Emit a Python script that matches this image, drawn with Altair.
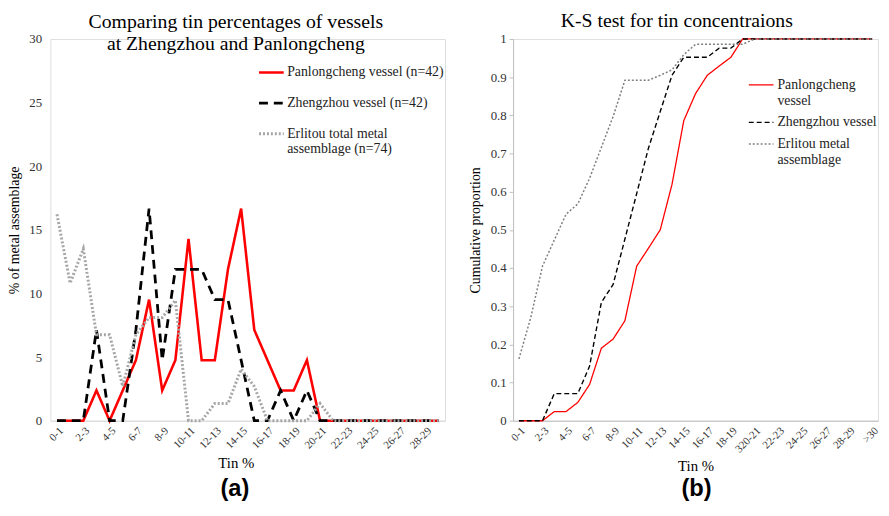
import altair as alt
import pandas as pd

# ---------------- data ----------------
cats_a = ["0-1", "1-2", "2-3", "3-4", "4-5", "5-6", "6-7", "7-8", "8-9", "9-10",
          "10-11", "11-12", "12-13", "13-14", "14-15", "15-16", "16-17", "17-18",
          "18-19", "19-20", "20-21", "21-22", "22-23", "23-24", "24-25", "25-26",
          "26-27", "27-28", "28-29", "29-30"]
labels_a = ["0-1", "2-3", "4-5", "6-7", "8-9", "10-11", "12-13", "14-15", "16-17",
            "18-19", "20-21", "22-23", "24-25", "26-27", "28-29"]

names_a = ["Panlongcheng vessel (n=42)", "Zhengzhou vessel (n=42)",
           "Erlitou total metal assemblage (n=74)"]
pan_a = [0, 0, 0, 2.38, 0, 2.38, 4.76, 9.52, 2.38, 4.76, 14.29, 4.76, 4.76, 11.9, 16.67,
         7.14, 4.76, 2.38, 2.38, 4.76, 0, 0, 0, 0, 0, 0, 0, 0, 0, 0]
zz_a = [0, 0, 0, 7.14, 0, 0, 7.14, 16.67, 4.76, 11.9, 11.9, 11.9, 9.52, 9.52, 4.76,
        0, 0, 2.38, 0, 2.38, 0, 0, 0, 0, 0, 0, 0, 0, 0, 0]
er_a = [16.22, 10.81, 13.51, 6.76, 6.76, 2.7, 6.76, 8.11, 8.11, 9.46, 0, 0, 1.35, 1.35,
        4.05, 2.7, 0, 0, 0, 0, 1.35, 0, 0, 0, 0, 0, 0, 0, 0, 0]

cats_b = ["0-1", "1-2", "2-3", "3-4", "4-5", "5-6", "6-7", "7-8", "8-9", "9-10",
          "10-11", "11-12", "12-13", "13-14", "14-15", "15-16", "16-17", "17-18",
          "18-19", "19-20", "320-21", "21-22", "22-23", "23-24", "24-25", "25-26",
          "26-27", "27-28", "28-29", "29-30", ">30"]
labels_b = ["0-1", "2-3", "4-5", "6-7", "8-9", "10-11", "12-13", "14-15", "16-17",
            "18-19", "320-21", "22-23", "24-25", "26-27", "28-29", ">30"]

names_b = ["Panlongcheng vessel", "Zhengzhou vessel", "Erlitou metal assemblage"]
pan_b = [0, 0, 0, 0.024, 0.024, 0.048, 0.095, 0.19, 0.214, 0.262, 0.405, 0.452, 0.5,
         0.619, 0.786, 0.857, 0.905, 0.929, 0.952, 1, 1, 1, 1, 1, 1, 1, 1, 1, 1, 1, 1]
zz_b = [0, 0, 0, 0.071, 0.071, 0.071, 0.143, 0.31, 0.357, 0.476, 0.595, 0.714, 0.81,
        0.905, 0.952, 0.952, 0.952, 0.976, 0.976, 1, 1, 1, 1, 1, 1, 1, 1, 1, 1, 1, 1]
er_b = [0.162, 0.27, 0.405, 0.473, 0.541, 0.568, 0.635, 0.716, 0.797, 0.892, 0.892,
        0.892, 0.905, 0.919, 0.959, 0.986, 0.986, 0.986, 0.986, 0.986, 1, 1, 1, 1, 1,
        1, 1, 1, 1, 1, 1]


def long_df(cats, names, series):
    rows = []
    for k, (name, vals) in enumerate(zip(names, series)):
        for c, v in zip(cats, vals):
            rows.append({"cat": c, "series": name, "order": k, "value": v})
    return pd.DataFrame(rows)


df_a = long_df(cats_a, names_a, [pan_a, zz_a, er_a])
df_b = long_df(cats_b, names_b, [pan_b, zz_b, er_b])

SERIF = "Liberation Serif"
SANS = "Liberation Sans"

# ---------------- panel (a) ----------------
leg_a = alt.Legend(
    title=None, orient="none", legendX=210, legendY=20, symbolType="stroke",
    symbolSize=625, labelFont=SERIF, labelFontSize=14, labelColor="#222",
    rowPadding=10, labelOffset=2, labelLimit=300,
    labelExpr="datum.label == 'Erlitou total metal assemblage (n=74)' ? "
              "['Erlitou total metal', 'assemblage (n=74)'] : datum.label",
)
panel_a = alt.Chart(df_a).mark_line().encode(
    x=alt.X("cat:N", sort=cats_a, scale=alt.Scale(domain=cats_a),
            axis=alt.Axis(values=labels_a, labelAngle=315, title="Tin %",
                          titleFont=SERIF, titleFontSize=15, titleFontWeight="normal",
                          titlePadding=5, titleX=188,
                          labelFont=SERIF, labelFontSize=11, labelColor="#333",
                          labelPadding=4, ticks=False, domainColor="#d9d9d9",
                          grid=False)),
    y=alt.Y("value:Q", scale=alt.Scale(domain=[0, 30], nice=False),
            axis=alt.Axis(values=[0, 5, 10, 15, 20, 25, 30], title="% of metal assemblage",
                          titleFont=SERIF, titleFontSize=14, titleFontWeight="normal",
                          titlePadding=7, labelFont=SERIF, labelFontSize=13,
                          labelColor="#333", labelPadding=9, ticks=False, domain=False,
                          grid=False)),
    color=alt.Color("series:N", scale=alt.Scale(domain=names_a,
                    range=["#ff0000", "#000000", "#a6a6a6"]), legend=leg_a),
    strokeDash=alt.StrokeDash("series:N", scale=alt.Scale(domain=names_a,
                              range=[[1, 0], [9, 6], [2, 2]]), legend=leg_a),
    strokeWidth=alt.StrokeWidth("series:N", scale=alt.Scale(domain=names_a,
                                range=[2.6, 3, 2]), legend=leg_a),
    order="order:Q",
).properties(
    width=400, height=387,
    title=alt.TitleParams(
        text=["Comparing tin percentages of vessels", "at Zhengzhou and Panlongcheng"],
        font=SERIF, fontSize=20, fontWeight="normal", lineHeight=22, color="black",
        offset=-21, frame="group", anchor="middle", dx=-12),
)

# ---------------- panel (b) ----------------
leg_b = alt.Legend(
    title=None, orient="none", legendX=238, legendY=33, symbolType="stroke",
    symbolSize=625, labelFont=SERIF, labelFontSize=14, labelColor="#222",
    rowPadding=1, labelOffset=3, labelLimit=300,
    labelExpr="datum.label == 'Panlongcheng vessel' ? ['Panlongcheng', 'vessel'] : "
              "(datum.label == 'Erlitou metal assemblage' ? ['Erlitou metal', 'assemblage'] "
              ": datum.label)",
)
panel_b = alt.Chart(df_b).mark_line().encode(
    x=alt.X("cat:N", sort=cats_b, scale=alt.Scale(domain=cats_b),
            axis=alt.Axis(values=labels_b, labelAngle=315, title="Tin %",
                          titleFont=SERIF, titleFontSize=15, titleFontWeight="normal",
                          titlePadding=5,
                          labelFont=SERIF, labelFontSize=11, labelColor="#333",
                          labelPadding=4, ticks=False, domainColor="#bfbfbf",
                          grid=False)),
    y=alt.Y("value:Q", scale=alt.Scale(domain=[0, 1], nice=False),
            axis=alt.Axis(values=[0, 0.1, 0.2, 0.3, 0.4, 0.5, 0.6, 0.7, 0.8, 0.9, 1],
                          format=".1~f", title="Cumulative proportion",
                          titleFont=SERIF, titleFontSize=14, titleFontWeight="normal",
                          titlePadding=8, labelFont=SERIF, labelFontSize=13,
                          labelColor="#333", labelPadding=3, ticks=True, tickSize=4,
                          tickColor="#bfbfbf", domain=True, domainColor="#bfbfbf",
                          grid=False)),
    color=alt.Color("series:N", scale=alt.Scale(domain=names_b,
                    range=["#ff0000", "#000000", "#7f7f7f"]), legend=leg_b),
    strokeDash=alt.StrokeDash("series:N", scale=alt.Scale(domain=names_b,
                              range=[[1, 0], [5, 3], [2, 2]]), legend=leg_b),
    strokeWidth=alt.StrokeWidth("series:N", scale=alt.Scale(domain=names_b,
                                range=[1.3, 1.5, 2]), legend=leg_b),
    order="order:Q",
).properties(
    width=370, height=387,
    title=alt.TitleParams(
        text="K-S test for tin concentraions",
        font=SERIF, fontSize=20, fontWeight="normal", color="black",
        offset=2, frame="group", anchor="middle", dx=-19),
)

# ---------------- captions ----------------
cap_a = alt.Chart(pd.DataFrame({"t": ["(a)"]})).mark_text(
    font=SANS, fontWeight="bold", fontSize=24, color="black", dx=-13
).encode(text="t:N").properties(width=400, height=16)
cap_b = alt.Chart(pd.DataFrame({"t": ["(b)"]})).mark_text(
    font=SANS, fontWeight="bold", fontSize=24, color="black", dx=1
).encode(text="t:N").properties(width=370, height=16)

chart = alt.concat(panel_a, panel_b, cap_a, cap_b, columns=2).properties(
    bounds="flush", spacing={"row": 61, "column": 69},
    padding={"left": -1, "top": -1, "right": 0, "bottom": 0},
).resolve_scale(
    color="independent", strokeDash="independent", strokeWidth="independent"
).configure_view(stroke=None).configure(background="white")

chart.save("out.html", embed_options={"renderer": "svg", "actions": False})
